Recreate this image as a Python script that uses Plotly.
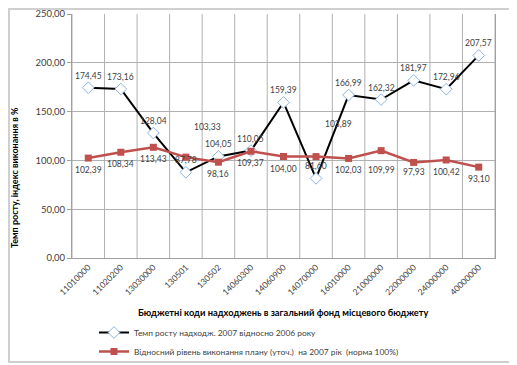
import plotly.graph_objects as go

categories = ["11010000", "11020200", "13030000", "130501", "130502", "14060300",
              "14060900", "14070000", "16010000", "21000000", "22000000", "24000000", "40000000"]
growth = [174.45, 173.16, 128.04, 87.78, 104.05, 110.05, 159.39, 81.60, 166.99, 162.32, 181.97, 172.96, 207.57]
plan = [102.39, 108.34, 113.43, 103.33, 98.16, 109.37, 104.00, 103.89, 102.03, 109.99, 97.93, 100.42, 93.10]
y_ticks = [0, 50, 100, 150, 200, 250]

name_growth = "Темп росту надходж. 2007 відносно 2006 року"
name_plan = "Відносний рівень виконання плану (уточ.)  на 2007 рік  (норма 100%)"

FONT = "Lato"
TXT = "#404040"
RED = "#C0504D"

def fmt(v):
    return f"{v:.2f}".replace(".", ",")

fig = go.Figure()
fig.add_trace(go.Scatter(
    x=categories, y=growth, name=name_growth, mode="lines+markers",
    line=dict(color="black", width=2),
    marker=dict(symbol="diamond", size=9, color="white", line=dict(color="#8DB3E2", width=1)),
))
fig.add_trace(go.Scatter(
    x=categories, y=plan, name=name_plan, mode="lines+markers",
    line=dict(color=RED, width=2.5),
    marker=dict(symbol="square", size=7, color=RED, line=dict(color=RED, width=0)),
))

# label offsets (pixels): black above, red below; a few moved manually
g_off = [(0, 12)] * len(categories)
p_off = list([(0, -12)] * len(categories))
p_off[3] = (22, 30)
p_off[7] = (22, 33)
p_off[9] = (0, -19)
p_off[10] = (0, -10)

annotations = []
for i, c in enumerate(categories):
    annotations.append(dict(xref="x", yref="y", x=i, y=growth[i], text=fmt(growth[i]),
                            showarrow=False, xshift=g_off[i][0], yshift=g_off[i][1],
                            font=dict(family=FONT, size=8.5, color=TXT)))
    annotations.append(dict(xref="x", yref="y", x=i, y=plan[i], text=fmt(plan[i]),
                            showarrow=False, xshift=p_off[i][0], yshift=p_off[i][1],
                            font=dict(family=FONT, size=8.5, color=TXT)))

# page has an 8px body margin: figure coordinates = page coordinates - 8
W, H = 509, 357
L, R, T, B = 64, 22, 6, 107
pw, ph = W - L - R, H - T - B
bottom = T + ph

annotations.append(dict(
    xref="paper", yref="paper", x=(275 - L) / pw, y=-(304 - bottom) / ph,
    xanchor="center", yanchor="middle",
    text="<b>Бюджетні коди надходжень в загальний фонд місцевого бюджету</b>",
    showarrow=False, font=dict(family=FONT, size=9.3, color="black")))
annotations.append(dict(
    xref="paper", yref="paper", x=-(L - 6) / pw, y=(bottom - 170) / ph, textangle=-90,
    xanchor="center", yanchor="middle",
    text="<b>Темп росту, індекс виконання в %</b>",
    showarrow=False, font=dict(family=FONT, size=9, color="black")))

# vertical grid lines between categories
shapes = []
for k in range(len(categories) + 1):
    shapes.append(dict(type="line", xref="x", yref="paper", x0=k - 0.5, x1=k - 0.5,
                       y0=0, y1=1, line=dict(color="#B0B0B0", width=1), layer="below"))
# outer chart frame
shapes.append(dict(type="rect", xref="paper", yref="paper",
                   x0=-(L - 1) / pw, x1=1 + 19 / pw,
                   y0=-(354 - bottom) / ph, y1=1 + (T - 1) / ph,
                   line=dict(color="#CFCFCF", width=2)))

fig.update_layout(
    width=W, height=H, margin=dict(l=L, r=R, t=T, b=B, autoexpand=False),
    paper_bgcolor="white", plot_bgcolor="white",
    separators=", ",
    font=dict(family=FONT, size=9, color=TXT),
    showlegend=True,
    legend=dict(orientation="v", x=(86 - L) / pw, y=-(310 - bottom) / ph,
                xanchor="left", yanchor="top", bgcolor="rgba(0,0,0,0)",
                font=dict(family=FONT, size=8.4, color=TXT), itemwidth=30,
                tracegroupgap=0),
    annotations=annotations, shapes=shapes,
    xaxis=dict(type="category", range=[-0.5, len(categories) - 0.5], tickangle=-45,
               showgrid=False, showline=True, linecolor="#A0A0A0", ticks="",
               tickfont=dict(family=FONT, size=8.5, color=TXT)),
    yaxis=dict(range=[0, 250], tickvals=y_ticks, tickformat=".2f",
               showgrid=True, gridcolor="#B0B0B0", showline=True, linecolor="#A0A0A0",
               mirror=True, ticks="outside", ticklen=4, tickcolor="#A0A0A0",
               zeroline=False, tickfont=dict(family=FONT, size=9.5, color=TXT)),
)

fig.write_html("out.html")
